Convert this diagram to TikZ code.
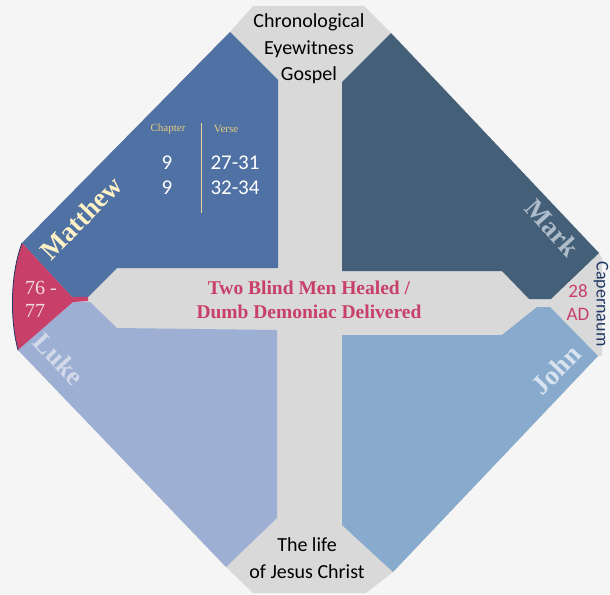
\documentclass[tikz,border=0pt]{standalone}
\usepackage{fontspec}
\setmainfont{Liberation Serif}
\newfontfamily\sansf{Carlito}
\definecolor{bgc}{HTML}{F5F5F5}
\definecolor{grayc}{HTML}{D9D9D9}
\definecolor{mattc}{HTML}{4F71A4}
\definecolor{markc}{HTML}{445F78}
\definecolor{lukec}{HTML}{9DB0D4}
\definecolor{johnc}{HTML}{87AACD}
\definecolor{redc}{HTML}{C8406A}
\definecolor{creamc}{HTML}{FFF2C4}
\definecolor{goldc}{HTML}{E6CC80}
\definecolor{marktc}{HTML}{AFBCCA}
\definecolor{luketc}{HTML}{D2DAEA}
\definecolor{johntc}{HTML}{D8E3EF}
\definecolor{pinktc}{HTML}{F2DCE3}
\definecolor{navyc}{HTML}{203864}
\begin{document}
\begin{tikzpicture}[x=1pt,y=-1pt,
  gospel/.style={font=\fontsize{27}{30}\selectfont\bfseries, inner sep=0pt},
  sanstext/.style={font=\sansf\fontsize{20}{26.5}\selectfont, align=center, inner sep=0pt}]
\useasboundingbox (0,0) rectangle (610,594);
\fill[bgc] (0,0) rectangle (610,594);
% gray background shape
\fill[grayc] (253,6) -- (364,6) -- (391,33) -- (599,253) -- (602,258) -- (602,356) -- (598,356)
  -- (393,572) -- (366,593) -- (253,593) -- (226,567) -- (18,350) -- (22,243) -- (230,32) -- cycle;
% gospel quadrants
\fill[mattc] (230,32) -- (278,80) -- (278,268) -- (117,268) -- (88,297) -- (72,297) -- (22,243) -- cycle;
\fill[markc] (391,33) -- (342,82) -- (342,271) -- (502,271) -- (529,299) -- (551,299) -- (599,253) -- cycle;
\fill[lukec] (73,302) -- (90,302) -- (117,328) -- (277,330) -- (277,518) -- (226,567) -- (18,350) -- cycle;
\fill[johnc] (342,335) -- (502,335) -- (537,307) -- (550,307) -- (598,356) -- (393,572) -- (342,525) -- cycle;
% red date shape
\fill[redc] (22,243) -- (72,297) -- (88,297) -- (88,301) -- (73,302) -- (18,350)
  .. controls (10,320) and (10,275) .. (22,243) -- cycle;
\draw[navyc, line width=0.8pt] (18,350) .. controls (10,320) and (10,275) .. (22,243);
% texts
\node[sanstext] (top) at (309,49) {Chronological\\Eyewitness\\Gospel};
\node[sanstext] (bottom) at (307,558) {The life\\of Jesus Christ};
\node[font=\fontsize{19.5}{24}\selectfont\bfseries, text=redc, align=center, inner sep=0pt] (title) at (309,300)
  {Two Blind Men Healed /\\Dumb Demoniac Delivered};
\node[gospel, text=creamc, rotate=46] (matthew) at (81,218) {Matthew};
\node[gospel, text=marktc, rotate=-48] (mark) at (552,228) {Mark};
\node[gospel, text=luketc, rotate=-47] (luke) at (59,359) {Luke};
\node[gospel, text=johntc, rotate=46] (john) at (556,370) {John};
\node[font=\fontsize{20}{23}\selectfont, text=pinktc, align=left, inner sep=0pt, anchor=west] (date) at (25,299) {76 -\\77};
\node[font=\sansf\fontsize{19}{23}\selectfont, text=redc, align=center, inner sep=0pt] (year) at (578,303) {28\\AD};
\node[font=\sansf\fontsize{18}{20}\selectfont, text=navyc, rotate=-90, inner sep=0pt] (place) at (601,304) {Capernaum};
% chapter / verse table
\node[font=\fontsize{11}{13}\selectfont, text=goldc, inner sep=0pt] (chap) at (168,129) {Chapter};
\node[font=\fontsize{11}{13}\selectfont, text=goldc, inner sep=0pt] (verse) at (226,129) {Verse};
\coordinate (divtop) at (201,123);
\coordinate (divbot) at (201,213);
\draw[goldc!80!white, line width=1pt] (divtop) -- (divbot);
\node[font=\sansf\fontsize{21}{25}\selectfont, text=white, align=center, inner sep=0pt] (chnum) at (167,175) {9\\9};
\node[font=\sansf\fontsize{21}{25}\selectfont, text=white, align=center, inner sep=0pt] (vnum) at (235,175) {27-31\\32-34};
\end{tikzpicture}
\end{document}
